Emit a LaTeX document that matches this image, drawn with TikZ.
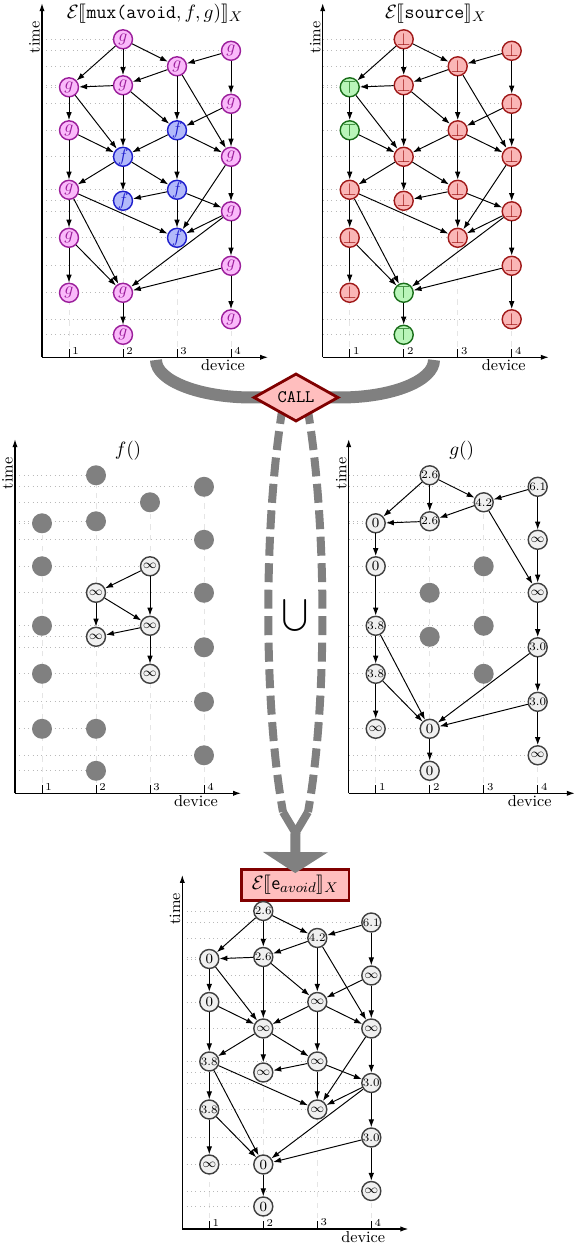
\documentclass[tikz,border=0pt]{standalone}
\usepackage{stmaryrd}
\usetikzlibrary{arrows.meta, shapes.geometric, backgrounds}

\definecolor{gfill}{RGB}{250,185,250}
\definecolor{gdraw}{RGB}{155,30,155}
\definecolor{ffill}{RGB}{178,185,250}
\definecolor{fdraw}{RGB}{30,30,205}
\definecolor{botfill}{RGB}{250,182,182}
\definecolor{botdraw}{RGB}{160,25,25}
\definecolor{topfill}{RGB}{185,245,185}
\definecolor{topdraw}{RGB}{25,110,25}
\definecolor{darkred}{RGB}{128,0,0}
\definecolor{lightred}{RGB}{255,190,190}

\tikzset{
  evarrow/.style={-{Latex[length=4.5pt,width=3.2pt]}, line width=0.55pt},
  evnode/.style={circle, minimum size=0.38cm, inner sep=0pt, line width=0.8pt},
  gnode/.style={evnode, draw=gdraw, fill=gfill, text=gdraw},
  fnode/.style={evnode, draw=fdraw, fill=ffill, text=fdraw},
  botnode/.style={evnode, draw=botdraw, fill=botfill, text=botdraw},
  topnode/.style={evnode, draw=topdraw, fill=topfill, text=topdraw},
  valnode/.style={evnode, draw=black!75, fill=black!6, font=\scriptsize},
  greydot/.style={circle, minimum size=0.4cm, inner sep=0pt, fill=gray},
  gridline/.style={gray!55, dotted, line width=0.5pt},
  devline/.style={gray!20, dashed, line width=0.5pt},
  axisline/.style={-{Latex[length=4.5pt,width=3pt]}, line width=0.6pt},
  axislabel/.style={font=\small, inner sep=1pt},
  ticklabel/.style={font=\fontsize{6}{7}\selectfont, inner sep=0pt, anchor=west},
  paneltitle/.style={font=\fontsize{11}{13}\selectfont},
  callshape/.style={diamond, draw=darkred, fill=lightred, line width=1.6pt,
    minimum width=1.7cm, minimum height=0.62cm, inner sep=0pt, font=\ttfamily},
  resultbox/.style={rectangle, draw=darkred, fill=lightred, line width=1.6pt,
    minimum width=2.15cm, minimum height=0.62cm, font=\fontsize{11}{13}\selectfont},
  band/.style={gray, line width=0.24cm},
  dashband/.style={gray, line width=0.16cm, dash pattern=on 0.38cm off 0.15cm}
}

% events: name/x/time
\newcommand{\evlist}{a1/27/270, a2/27/227, a3/27/167.5, a4/27/119.5, a5/27/64.5,
  b1/81/318, b2/81/272, b3/81/200.5, b4/81/156.5, b5/81/64.5, b6/81/22.5,
  c1/135/291, c2/135/227, c3/135/167.5, c4/135/119.5,
  d1/189/306.5, d2/189/253.5, d3/189/200.5, d4/189/146, d5/189/91.5, d6/189/38}
\newcommand{\gevents}{a1,a2,a3,a4,a5,b1,b2,b5,b6,c1,d1,d2,d3,d4,d5,d6}
\newcommand{\fevents}{c2,b3,b4,c3,c4}
\newcommand{\botevents}{a3,a4,a5,b1,b2,b3,b4,c1,c2,c3,c4,d1,d2,d3,d4,d5,d6}
\newcommand{\topevents}{a1,a2,b5,b6}
\newcommand{\alledges}{b1/a1, b1/b2, b1/c1, d1/c1, c1/b2, b2/a1, c1/c2, c1/d3,
  d1/d2, a1/a2, a1/b3, b2/b3, b2/c2, d2/c2, d2/d3, a2/b3, a2/a3, c2/b3, c2/d3,
  c2/c3, b3/a3, b3/b4, b3/c3, d3/d4, d3/c4, c3/b4, c3/d4, c3/c4, a3/a4, a3/c4,
  a3/b5, d4/c4, d4/b5, d4/d5, a4/a5, a4/b5, d5/b5, d5/d6, b5/b6}
\newcommand{\gedges}{b1/a1, b1/b2, b1/c1, d1/c1, c1/b2, b2/a1, c1/d3, d1/d2,
  a1/a2, d2/d3, a2/a3, d3/d4, a3/a4, a3/b5, d4/b5, d4/d5, a4/a5, a4/b5, d5/b5,
  d5/d6, b5/b6}
\newcommand{\fedges}{c2/b3, c2/c3, b3/b4, b3/c3, c3/b4, c3/c4}
\newcommand{\vd}[1]{\fontsize{6.5}{7}\selectfont #1}
\newcommand{\vz}{\footnotesize 0}
\newcommand{\vi}{$\infty$}
\newcommand{\gvalues}{b1/\vd{2.6}, d1/\vd{6.1}, c1/\vd{4.2}, b2/\vd{2.6}, a1/\vz,
  d2/\vi, a2/\vz, d3/\vi, a3/\vd{3.8}, d4/\vd{3.0}, a4/\vd{3.8}, d5/\vd{3.0},
  a5/\vi, b5/\vz, d6/\vi, b6/\vz}

% axes, ticks and grid of one panel
\newcommand{\eventaxes}[1]{%
  \foreach \dev/\ymax in {1/270, 2/318, 3/291, 4/306.5} {
    \draw[devline] ({27+54*(\dev-1)},0) -- ({27+54*(\dev-1)},\ymax);
    \draw[line width=0.5pt] ({27+54*(\dev-1)},0) -- ++(0,8);
    \node[ticklabel] (#1-tick\dev) at ({30+54*(\dev-1)},6.5) {\dev};
  }
  \foreach \n/\x/\y in \evlist {
    \draw[gridline] (0,\y) -- (\x,\y);
    \coordinate (ev-\n) at (\x,\y);
  }
  \draw[axisline] (0,0) -- (226,0);
  \draw[axisline] (0,0) -- (0,354);
  \node[axislabel, anchor=north east] (#1-device) at (205,0) {device};
  \node[axislabel, rotate=90, anchor=south east] (#1-time) at (0,338) {time};
}

\begin{document}
\begin{tikzpicture}[x=0.02cm, y=0.02cm]
  \useasboundingbox (0,0) rectangle (576,1245);

  % mux panel
  \begin{scope}[shift={(42,887.7)}]
    \eventaxes{m}
    \node[paneltitle] (m-title) at (113,344) {$\mathcal{E}\llbracket\texttt{mux(avoid},f,g)\rrbracket_X$};
    \foreach \n in \gevents {\node[gnode] (m-\n) at (ev-\n) {$g$};}
    \foreach \n in \fevents {\node[fnode] (m-\n) at (ev-\n) {$f$};}
    \foreach \src/\dst in \alledges {\draw[evarrow] (m-\src) -- (m-\dst);}
  \end{scope}

  % source panel
  \begin{scope}[shift={(322.7,887.7)}]
    \eventaxes{s}
    \node[paneltitle] (s-title) at (113,344) {$\mathcal{E}\llbracket\texttt{source}\rrbracket_X$};
    \foreach \n in \botevents {\node[botnode] (s-\n) at (ev-\n) {$\bot$};}
    \foreach \n in \topevents {\node[topnode] (s-\n) at (ev-\n) {$\top$};}
    \foreach \src/\dst in \alledges {\draw[evarrow] (s-\src) -- (s-\dst);}
  \end{scope}

  % f panel
  \begin{scope}[shift={(15,451.7)}]
    \eventaxes{f}
    \node[paneltitle] (f-title) at (113,343) {$f()$};
    \foreach \n in \gevents {\node[greydot] (f-\n) at (ev-\n) {};}
    \foreach \n in \fevents {\node[valnode] (f-\n) at (ev-\n) {$\infty$};}
    \foreach \src/\dst in \fedges {\draw[evarrow] (f-\src) -- (f-\dst);}
  \end{scope}

  % g panel
  \begin{scope}[shift={(348.7,451.7)}]
    \eventaxes{g}
    \node[paneltitle] (g-title) at (113,343) {$g()$};
    \foreach \n in \fevents {\node[greydot] (g-\n) at (ev-\n) {};}
    \foreach \n/\val in \gvalues {\node[valnode] (g-\n) at (ev-\n) {\val};}
    \foreach \src/\dst in \gedges {\draw[evarrow] (g-\src) -- (g-\dst);}
  \end{scope}

  % result panel
  \begin{scope}[shift={(182.3,16)}]
    \eventaxes{e}
    \node[resultbox] (result) at (113,344) {$\mathcal{E}\llbracket\mathsf{e}_{avoid}\rrbracket_X$};
    \foreach \n in \fevents {\node[valnode] (e-\n) at (ev-\n) {$\infty$};}
    \foreach \n/\val in \gvalues {\node[valnode] (e-\n) at (ev-\n) {\val};}
    \foreach \src/\dst in \alledges {\draw[evarrow] (e-\src) -- (e-\dst);}
  \end{scope}

  % call and union
  \node[callshape] (call) at (296,847.5) {CALL};
  \node[scale=1.3] (union) at (295,630) {$\displaystyle\bigcup$};
  \coordinate (bandL) at (156,885);
  \coordinate (bandR) at (434,885);
  \coordinate (dl1) at (283,840);
  \coordinate (dl2) at (283,433);
  \coordinate (dr1) at (307,840);
  \coordinate (dr2) at (308,433);
  \coordinate (merge) at (295.5,412);

  \begin{pgfonlayer}{background}
    \draw[band] (bandL) .. controls (156,864.5) and (199,847.5) .. (call.west) -- (call.center);
    \draw[band] (bandR) .. controls (434,864.5) and (393,847.5) .. (call.east) -- (call.center);
    \draw[dashband] (dl1) .. controls (263.4,722) and (263.4,541) .. (dl2);
    \draw[dashband] (dr1) .. controls (327.4,722) and (327.4,541) .. (dr2);
  \end{pgfonlayer}
  \draw[gray, line width=0.16cm] (dl2) -- (merge) -- (dr2);
  \draw[gray, line width=0.2cm, shorten >=-0.1cm,
    -{Triangle[length=0.42cm,width=1.28cm]}] (merge) -- (result.north);

\end{tikzpicture}
\end{document}
